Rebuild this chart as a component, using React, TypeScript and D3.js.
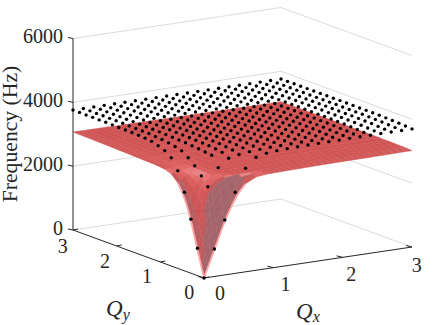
import React from 'react'
import * as d3 from 'd3'

const W = 439
const H = 325

const meshQ = [0, 0.05, 0.1, 0.15, 0.2, 0.3, 0.4, 0.5, 0.6, 0.75, 0.9, 1.1, 1.4, 1.8, 2.4, 3]
const surfaceHz = [
  [0, 280, 560, 840, 1120, 1680, 2130, 2500, 2760, 2920, 2960, 2975, 2985, 3000, 3010, 3020],
  [270, 830, 1150, 1400, 1650, 2050, 2400, 2660, 2830, 2940, 2970, 2980, 2990, 3000, 3010, 3020],
  [540, 1100, 1650, 2050, 2300, 2600, 2750, 2860, 2920, 2960, 2975, 2985, 2995, 3005, 3015, 3025],
  [810, 1300, 2000, 2480, 2620, 2820, 2920, 2960, 2975, 2985, 2990, 2995, 3000, 3010, 3020, 3030],
  [1090, 1550, 2180, 2550, 2720, 2880, 2950, 2975, 2985, 2990, 2995, 3000, 3005, 3015, 3025, 3035],
  [1650, 1950, 2400, 2650, 2780, 2970, 2985, 2990, 2995, 3000, 3000, 3005, 3010, 3020, 3030, 3040],
  [2100, 2300, 2580, 2760, 2860, 2985, 2995, 3000, 3000, 3005, 3005, 3010, 3015, 3025, 3035, 3040],
  [2430, 2560, 2720, 2830, 2910, 2990, 3000, 3005, 3005, 3010, 3010, 3015, 3020, 3030, 3040, 3045],
  [2680, 2760, 2850, 2890, 2940, 2995, 3005, 3010, 3010, 3015, 3015, 3020, 3025, 3030, 3040, 3045],
  [2880, 2910, 2930, 2945, 2965, 3000, 3010, 3015, 3015, 3020, 3020, 3025, 3030, 3035, 3045, 3050],
  [2960, 2965, 2970, 2975, 2985, 3005, 3015, 3020, 3020, 3025, 3025, 3030, 3035, 3040, 3045, 3050],
  [2990, 2990, 2995, 3000, 3005, 3015, 3020, 3025, 3030, 3030, 3030, 3035, 3040, 3045, 3050, 3050],
  [3005, 3005, 3010, 3010, 3015, 3020, 3025, 3030, 3030, 3035, 3035, 3040, 3040, 3045, 3050, 3050],
  [3025, 3025, 3025, 3030, 3030, 3035, 3035, 3035, 3040, 3040, 3040, 3045, 3045, 3045, 3050, 3050],
  [3050, 3050, 3050, 3050, 3050, 3050, 3050, 3050, 3050, 3050, 3050, 3050, 3050, 3050, 3050, 3050],
  [3070, 3070, 3070, 3065, 3065, 3065, 3065, 3065, 3060, 3060, 3060, 3060, 3055, 3055, 3050, 3050],
]

// measured points, one every 0.15 in Qx and Qy (Hz)
const dotQ = [0, 0.15, 0.3, 0.45, 0.6, 0.75, 0.9, 1.05, 1.2, 1.35, 1.5, 1.65, 1.8, 1.95, 2.1, 2.25, 2.4, 2.55, 2.7, 2.85, 3]
const dotHz = [
  [0, 860, 1720, 2540, 3244, 3540, 3620, 3650, 3665, 3675, 3680, 3685, 3690, 3690, 3695, 3695, 3695, 3700, 3700, 3700, 3700],
  [856, 2737, 3285, 3530, 3600, 3640, 3665, 3680, 3690, 3695, 3700, 3700, 3705, 3705, 3710, 3710, 3710, 3710, 3715, 3715, 3715],
  [1690, 3000, 3600, 3640, 3665, 3685, 3695, 3705, 3710, 3715, 3715, 3720, 3720, 3720, 3725, 3725, 3725, 3725, 3725, 3730, 3730],
  [2460, 3245, 3625, 3680, 3695, 3710, 3715, 3720, 3725, 3725, 3730, 3730, 3730, 3735, 3735, 3735, 3735, 3735, 3740, 3740, 3740],
  [3062, 3420, 3650, 3700, 3715, 3725, 3730, 3735, 3735, 3740, 3740, 3740, 3740, 3745, 3745, 3745, 3745, 3745, 3745, 3745, 3745],
  [3392, 3560, 3670, 3710, 3725, 3735, 3740, 3740, 3745, 3745, 3745, 3745, 3750, 3750, 3750, 3750, 3750, 3750, 3750, 3750, 3750],
  [3540, 3620, 3690, 3720, 3735, 3740, 3745, 3745, 3750, 3750, 3750, 3750, 3750, 3750, 3750, 3750, 3755, 3755, 3755, 3755, 3755],
  [3620, 3660, 3700, 3730, 3740, 3745, 3750, 3750, 3750, 3750, 3755, 3755, 3755, 3755, 3755, 3755, 3755, 3755, 3755, 3755, 3755],
  [3680, 3690, 3710, 3735, 3745, 3750, 3750, 3755, 3755, 3755, 3755, 3755, 3755, 3755, 3755, 3755, 3755, 3755, 3755, 3755, 3755],
  [3705, 3710, 3720, 3740, 3750, 3750, 3755, 3755, 3755, 3755, 3755, 3755, 3755, 3755, 3755, 3755, 3755, 3760, 3760, 3760, 3760],
  [3720, 3725, 3730, 3745, 3750, 3755, 3755, 3755, 3755, 3755, 3755, 3760, 3760, 3760, 3760, 3760, 3760, 3760, 3760, 3760, 3760],
  [3730, 3730, 3735, 3745, 3750, 3755, 3755, 3755, 3760, 3760, 3760, 3760, 3760, 3760, 3760, 3760, 3760, 3760, 3760, 3760, 3760],
  [3735, 3735, 3740, 3750, 3755, 3755, 3755, 3760, 3760, 3760, 3760, 3760, 3760, 3760, 3760, 3760, 3760, 3760, 3760, 3760, 3760],
  [3740, 3740, 3745, 3750, 3755, 3755, 3760, 3760, 3760, 3760, 3760, 3760, 3760, 3760, 3760, 3760, 3760, 3760, 3760, 3760, 3760],
  [3745, 3745, 3750, 3750, 3755, 3760, 3760, 3760, 3760, 3760, 3760, 3760, 3760, 3760, 3760, 3760, 3760, 3760, 3760, 3760, 3760],
  [3750, 3750, 3750, 3755, 3755, 3760, 3760, 3760, 3760, 3760, 3760, 3760, 3760, 3760, 3760, 3760, 3760, 3760, 3760, 3760, 3760],
  [3750, 3750, 3755, 3755, 3760, 3760, 3760, 3760, 3760, 3760, 3760, 3760, 3760, 3760, 3760, 3760, 3760, 3760, 3760, 3760, 3760],
  [3755, 3755, 3755, 3755, 3760, 3760, 3760, 3760, 3760, 3760, 3760, 3760, 3760, 3760, 3760, 3760, 3760, 3760, 3760, 3760, 3760],
  [3755, 3755, 3755, 3760, 3760, 3760, 3760, 3760, 3760, 3760, 3760, 3760, 3760, 3760, 3760, 3760, 3760, 3760, 3760, 3760, 3760],
  [3760, 3760, 3760, 3760, 3760, 3760, 3760, 3760, 3760, 3760, 3760, 3760, 3760, 3760, 3760, 3760, 3760, 3760, 3760, 3760, 3760],
  [3760, 3760, 3760, 3760, 3760, 3760, 3760, 3760, 3760, 3760, 3760, 3760, 3760, 3760, 3760, 3760, 3760, 3760, 3760, 3760, 3760],
]

const qTicks = [0, 1, 2, 3]
const zTicks = [0, 2000, 4000, 6000]

// oblique projection of the MATLAB view
const xFromQx = d3.scaleLinear().domain([0, 3]).range([0, 208])
const xFromQy = d3.scaleLinear().domain([0, 3]).range([0, -131])
const yFromQx = d3.scaleLinear().domain([0, 3]).range([0, -31])
const yFromQy = d3.scaleLinear().domain([0, 3]).range([0, -48])
const yFromZ = d3.scaleLinear().domain([0, 6000]).range([0, -191.5])

const project = (qx: number, qy: number, z: number): [number, number] => [
  204 + xFromQx(qx) + xFromQy(qy),
  278 + yFromQx(qx) + yFromQy(qy) + yFromZ(z),
]

// tick labels sit on their own, slightly tighter rails
const qxLabelX = d3.scaleLinear().domain([0, 3]).range([220, 416.7])
const qxLabelY = d3.scaleLinear().domain([0, 3]).range([300, 272])
const qyLabelX = d3.scaleLinear().domain([0, 3]).range([189.3, 62.7])
const qyLabelY = d3.scaleLinear().domain([0, 3]).range([298.5, 253])

const poly = (pts: [number, number][]) => d3.line()(pts) + 'Z'

const shade = d3
  .scaleLinear<string>()
  .domain([-0.1, 0.45, 0.69, 0.85, 1.2])
  .range(['#934a52', '#964b52', '#ca3737', '#e05050', '#fbd8d8'])
  .clamp(true)

const light = [-0.7, 0.2, 0.69]
const glint = [-0.1, -0.55, 0.83]

const buildCells = () => {
  const cells: { d: string; fill: string }[] = []
  for (let r = meshQ.length - 2; r >= 0; r--) {
    for (let c = meshQ.length - 2; c >= 0; c--) {
      const x0 = meshQ[c]
      const x1 = meshQ[c + 1]
      const y0 = meshQ[r]
      const y1 = meshQ[r + 1]
      const z00 = surfaceHz[r][c]
      const z10 = surfaceHz[r][c + 1]
      const z01 = surfaceHz[r + 1][c]
      const z11 = surfaceHz[r + 1][c + 1]
      const dzdx = ((z10 + z11 - z00 - z01) / 2 / (x1 - x0)) / 1000
      const dzdy = ((z01 + z11 - z00 - z10) / 2 / (y1 - y0)) / 1000
      const len = Math.hypot(dzdx, dzdy, 1)
      const diffuse = (dzdx * -light[0] + dzdy * -light[1] + light[2]) / len
      const spec = Math.max(0, (dzdx * -glint[0] + dzdy * -glint[1] + glint[2]) / len) ** 40
      const fill = shade(diffuse + 0.5 * spec)
      cells.push({
        d: poly([project(x0, y0, z00), project(x1, y0, z10), project(x1, y1, z11), project(x0, y1, z01)]),
        fill,
      })
    }
  }
  return cells
}

// silhouette of the cusp along the two axes, up to the bend
const fringeEnd = meshQ.indexOf(0.75)
const fringeY = meshQ.slice(0, fringeEnd).map((q, i) => project(0, q, surfaceHz[i][0]))
const fringeX = meshQ.slice(0, fringeEnd).map((q, i) => project(q, 0, surfaceHz[0][i]))

const ink = '#262626'
const textStyle = { fontFamily: 'Liberation Serif' }

export default function App() {
  const cells = buildCells()
  const corners: [number, number][] = [[0, 3], [3, 3], [3, 0]]
  return (
    <svg
      width={W}
      height={H}
      viewBox={`0 0 ${W} ${H}`}
      style={{ position: 'absolute', left: 0, top: 0, background: '#fff' }}
    >
      <style>{`text, tspan { font-family: 'Liberation Serif', 'Times New Roman', serif !important; }`}</style>

      {/* back wall grid */}
      {zTicks.map((z) => (
        <path
          key={z}
          d={d3.line()(corners.map(([a, b]) => project(a, b, z))) as string}
          fill="none"
          stroke="#dcdcdc"
          strokeWidth={1}
        />
      ))}

      {/* axes */}
      <path d={d3.line()([project(0, 3, 0), project(0, 0, 0), project(3, 0, 0)]) as string} fill="none" stroke={ink} strokeWidth={1} />
      <path d={d3.line()([project(0, 3, 0), project(0, 3, 6000)]) as string} fill="none" stroke={ink} strokeWidth={1} />

      {zTicks.map((z) => {
        const [px, py] = project(0, 3, z)
        return (
          <g key={z}>
            <line x1={px - 5} x2={px} y1={py - 1} y2={py} stroke={ink} strokeWidth={1} />
            <text x={px - 10} y={py + 4.5} textAnchor="end" fontSize={20} fill={ink} style={textStyle}>
              {z}
            </text>
          </g>
        )
      })}
      {qTicks.map((q) => {
        const [px, py] = project(q, 0, 0)
        return (
          <g key={`x${q}`}>
            <line x1={px} y1={py} x2={px - 6} y2={py - 1.5} stroke={ink} strokeWidth={1} />
            <text x={qxLabelX(q)} y={qxLabelY(q)} textAnchor="middle" fontSize={20} fill={ink} style={textStyle}>
              {q}
            </text>
          </g>
        )
      })}
      {qTicks.map((q) => {
        const [px, py] = project(0, q, 0)
        return (
          <g key={`y${q}`}>
            <line x1={px} y1={py} x2={px + 5} y2={py - 1} stroke={ink} strokeWidth={1} />
            <text x={qyLabelX(q)} y={qyLabelY(q)} textAnchor="middle" fontSize={20} fill={ink} style={textStyle}>
              {q}
            </text>
          </g>
        )
      })}

      {/* surface */}
      <g opacity={0.85}>
        {cells.map((cell, i) => (
          <path key={i} d={cell.d} fill={cell.fill} stroke={cell.fill} strokeWidth={0.5} strokeLinejoin="round" />
        ))}
        <path d={d3.line().curve(d3.curveCatmullRom)(fringeY) as string} fill="none" stroke="#ff9a9a" strokeWidth={1.8} />
        <path d={d3.line().curve(d3.curveCatmullRom)(fringeX) as string} fill="none" stroke="#ff9a9a" strokeWidth={1.8} />
      </g>

      {/* measured points */}
      {dotHz.map((row, r) =>
        row.map((z, c) => {
          const [px, py] = project(dotQ[c], dotQ[r], z)
          return <circle key={`${r}-${c}`} cx={px} cy={py} r={1.7} fill="#000" />
        }),
      )}

      {/* labels */}
      <text transform="translate(17,134) rotate(-90)" textAnchor="middle" fontSize={21.7} fill={ink} style={textStyle}>
        Frequency (Hz)
      </text>
      <text x={106} y={316} fontSize={23} fontStyle="italic" fill={ink} style={textStyle}>
        Q
        <tspan fontSize={16} dy={4}>y</tspan>
      </text>
      <text x={296} y={319} fontSize={23} fontStyle="italic" fill={ink} style={textStyle}>
        Q
        <tspan fontSize={16} dy={3}>x</tspan>
      </text>
    </svg>
  )
}
